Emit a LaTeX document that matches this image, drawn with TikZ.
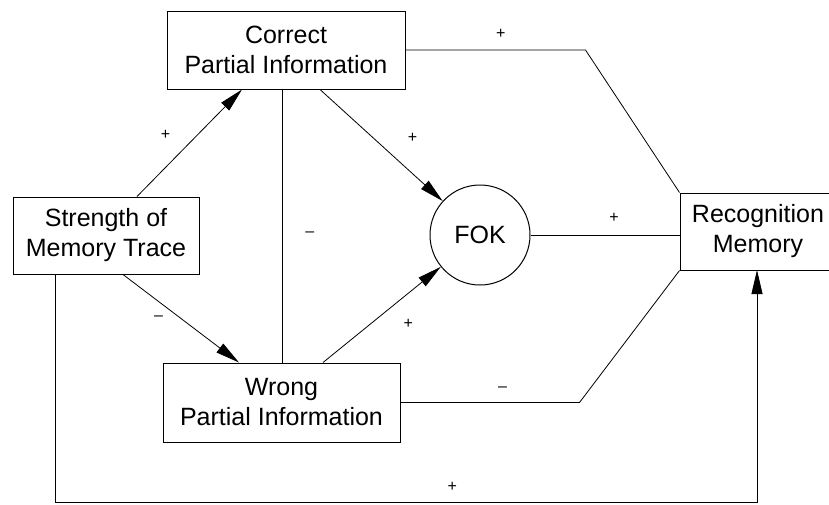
\documentclass[tikz,border=0pt]{standalone}
\usepackage{fontspec}
\setmainfont{Liberation Sans}
\usetikzlibrary{arrows.meta}
\tikzset{
  box/.style={draw, line width=1pt, align=center, inner sep=0pt,
    font=\fontsize{25}{30}\selectfont},
  sign/.style={inner sep=0pt, font=\fontsize{16}{16}\selectfont},
  >={Triangle[length=24pt,width=11pt]}
}
\begin{document}
\begin{tikzpicture}[x=1pt, y=-1pt, line width=0.8pt]
    \useasboundingbox (0,0) rectangle (829,504);

    \node[box, minimum width=238pt, minimum height=78pt] (correct) at (286,50) {Correct\\Partial Information};
    \node[box, minimum width=186pt, minimum height=77pt] (strength) at (106,235.5) {Strength of\\Memory Trace};
    \node[box, minimum width=237pt, minimum height=79pt] (wrong) at (281.5,402.5) {Wrong\\Partial Information};
    \node[box, circle, minimum size=100pt] (fok) at (480,235) {FOK};
    \node[box, minimum width=156pt, minimum height=77pt] (recog) at (758,231.5) {Recognition\\Memory};

    \draw[->] ([xshift=31pt]strength.north) to node[sign, pos=.425, above left=11pt] {+} ([xshift=-44pt]correct.south);
    \draw[->] ([xshift=17pt]strength.south) to node[sign, pos=.4, below left=6pt] {--} ([xshift=-42.5pt]wrong.north);
    \draw ([xshift=-4pt]correct.south) to node[sign, pos=.53, right=23pt] {--} ([xshift=0.5pt]wrong.north);
    \draw[->] ([xshift=34pt]correct.south) to node[sign, pos=.6, above right=14pt] {+} (fok);
    \draw[->] ([xshift=41.5pt]wrong.north) to node[sign, pos=.58, below right=12pt] {+} (fok);
    \draw (correct.east) -- node[sign, pos=.53, above=11pt] {+} ([xshift=180pt]correct.east) -- (recog.north west);
    \draw (fok.east) -- node[sign, pos=.56, above=12pt] {+} (fok.east -| recog.west);
    \draw (wrong.east) -- node[sign, pos=.57, above=11pt] {--} ([xshift=179pt]wrong.east) -- (recog.south west);
    \draw[->] ([xshift=-51pt]strength.south) -- (55,502) -- node[sign, pos=.566, above=10pt] {+} (757,502) -- (757,270);
\end{tikzpicture}
\end{document}
